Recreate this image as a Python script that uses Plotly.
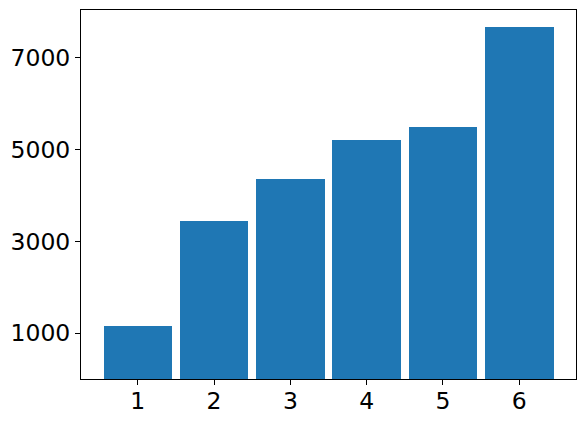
import plotly.graph_objects as go

categories = [1, 2, 3, 4, 5, 6]
values = [1152, 3440, 4355, 5205, 5490, 7670]
y_ticks = [1000, 3000, 5000, 7000]

fig = go.Figure()
fig.add_trace(go.Bar(x=categories, y=values, width=0.9,
                     marker=dict(color="#1f77b4", line=dict(width=0))))

font = dict(family="DejaVu Sans", size=23.5, color="black")
fig.update_layout(
    width=585, height=423,
    margin=dict(l=81, r=9, t=10, b=44, autoexpand=False),
    paper_bgcolor="white", plot_bgcolor="white",
    showlegend=False, bargap=0,
    font=font,
)
fig.update_xaxes(range=[0.255, 6.745], tickvals=categories,
                 ticktext=[str(c) for c in categories], automargin=False,
                 showgrid=False, zeroline=False, showline=True, mirror=True,
                 linecolor="black", linewidth=1, ticks="outside", ticklen=5,
                 tickcolor="black", tickfont=font, ticklabelstandoff=-4)
fig.update_yaxes(range=[0, 8040], tickvals=y_ticks,
                 ticktext=[str(v) for v in y_ticks], automargin=False,
                 showgrid=False, zeroline=False, showline=True, mirror=True,
                 linecolor="black", linewidth=1, ticks="outside", ticklen=5,
                 tickcolor="black", tickfont=font)
fig.write_html("out.html", config={"responsive": False, "displayModeBar": False},
               post_script="document.body.style.margin='0';document.body.style.overflow='hidden';")
